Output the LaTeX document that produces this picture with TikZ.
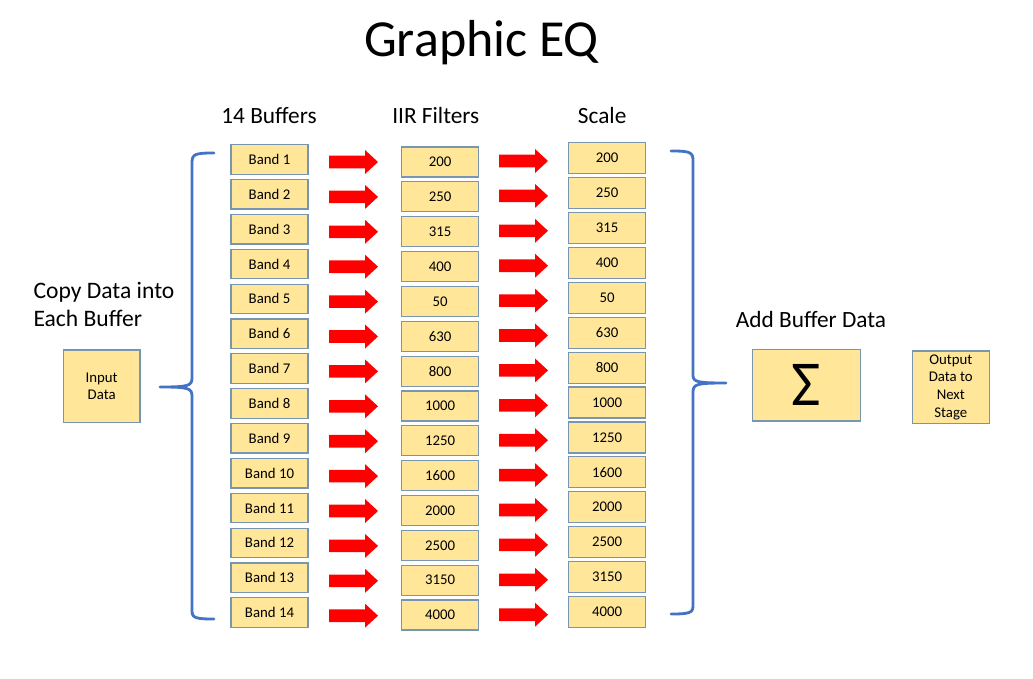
\documentclass[tikz,border=0pt]{standalone}
\usepackage{fontspec}
\setmainfont{Carlito}
\definecolor{boxfill}{RGB}{255,230,153}
\definecolor{boxline}{RGB}{120,150,178}
\definecolor{bracecol}{RGB}{68,114,196}
\begin{document}
\begin{tikzpicture}[x=1pt,y=-1pt,
  gbox/.style={draw=boxline,fill=boxfill,line width=1.2pt,inner sep=0pt,
    minimum width=77pt,minimum height=30pt,font=\fontsize{14.8}{17.6}\selectfont,align=center},
  head/.style={font=\fontsize{23.3}{28}\selectfont,anchor=base},
  bracestyle/.style={draw=bracecol,line width=2.8pt,line cap=round,line join=round}]
\useasboundingbox (0,0) rectangle (1033,679);
\fill[white] (0,0) rectangle (1033,679);
% title and headings
\node[font=\fontsize{52}{60}\selectfont,anchor=base] (title) at (481.5,57) {Graphic EQ};
\node[head] (h1) at (269,123.5) {14 Buffers};
\node[head] (h2) at (435.8,123.5) {IIR Filters};
\node[head] (h3) at (602.2,123.5) {Scale};
\node[font=\fontsize{23.6}{28}\selectfont,anchor=base west,align=left,inner sep=0pt] (copy) at (33.3,326.5) {Copy Data into\\Each Buffer};
\node[font=\fontsize{23.3}{28}\selectfont,anchor=base west,inner sep=0pt] (addt) at (735.7,327) {Add Buffer Data};
% side boxes
\node[gbox,minimum width=76.7pt,minimum height=72.3pt] (in) at (101.7,386.2) {Input\\Data};
\node[gbox,minimum width=108.4pt,minimum height=71.7pt,font=\fontsize{64}{64}\selectfont] (sum) at (806.5,385.2) {Σ};
\node[gbox,minimum width=77pt,minimum height=72.3pt] (out) at (950.8,387.2) {Output\\Data to\\Next\\Stage};
% columns
\foreach \i/\f in {1/200,2/250,3/315,4/400,5/50,6/630,7/800,8/1000,9/1250,10/1600,11/2000,12/2500,13/3150,14/4000}{
  \pgfmathsetmacro{\yb}{159.5+34.85*(\i-1)}
  \pgfmathsetmacro{\yf}{162+34.85*(\i-1)}
  \pgfmathsetmacro{\ys}{158.2+34.9*(\i-1)}
  \pgfmathsetmacro{\ya}{162+34.9*(\i-1)}
  \pgfmathsetmacro{\yc}{161+34.9*(\i-1)}
  \node[gbox,minimum height=29.5pt] (b\i) at (269.5,\yb) {Band \i};
  \node[gbox] (f\i) at (440,\yf) {\f};
  \node[gbox,minimum height=31pt] (s\i) at (607,\ys) {\f};
  \fill[red] (329,\ya-6.3) -- (365,\ya-6.3) -- (365,\ya-12) -- (378,\ya) -- (365,\ya+12) -- (365,\ya+6.3) -- (329,\ya+6.3) -- cycle;
  \fill[red] (499,\yc-6.3) -- (535,\yc-6.3) -- (535,\yc-12) -- (548,\yc) -- (535,\yc+12) -- (535,\yc+6.3) -- (499,\yc+6.3) -- cycle;
}
% braces
\coordinate (lt) at (160,387);
\coordinate (rt) at (726,383);
\draw[bracestyle] (214,153) .. controls (196,153) and (192,154) .. (192,162) -- (192,378) .. controls (192,386) and (188,387) .. (lt)
  .. controls (188,387) and (192,388) .. (192,396) -- (192,611) .. controls (192,618) and (196,619) .. (214,619);
\draw[bracestyle] (671,151) .. controls (689,151) and (693,152) .. (693,160) -- (693,375) .. controls (693,382) and (697,383) .. (rt)
  .. controls (697,383) and (693,384) .. (693,392) -- (693,606) .. controls (693,613) and (689,614) .. (671,614);
\end{tikzpicture}
\end{document}
